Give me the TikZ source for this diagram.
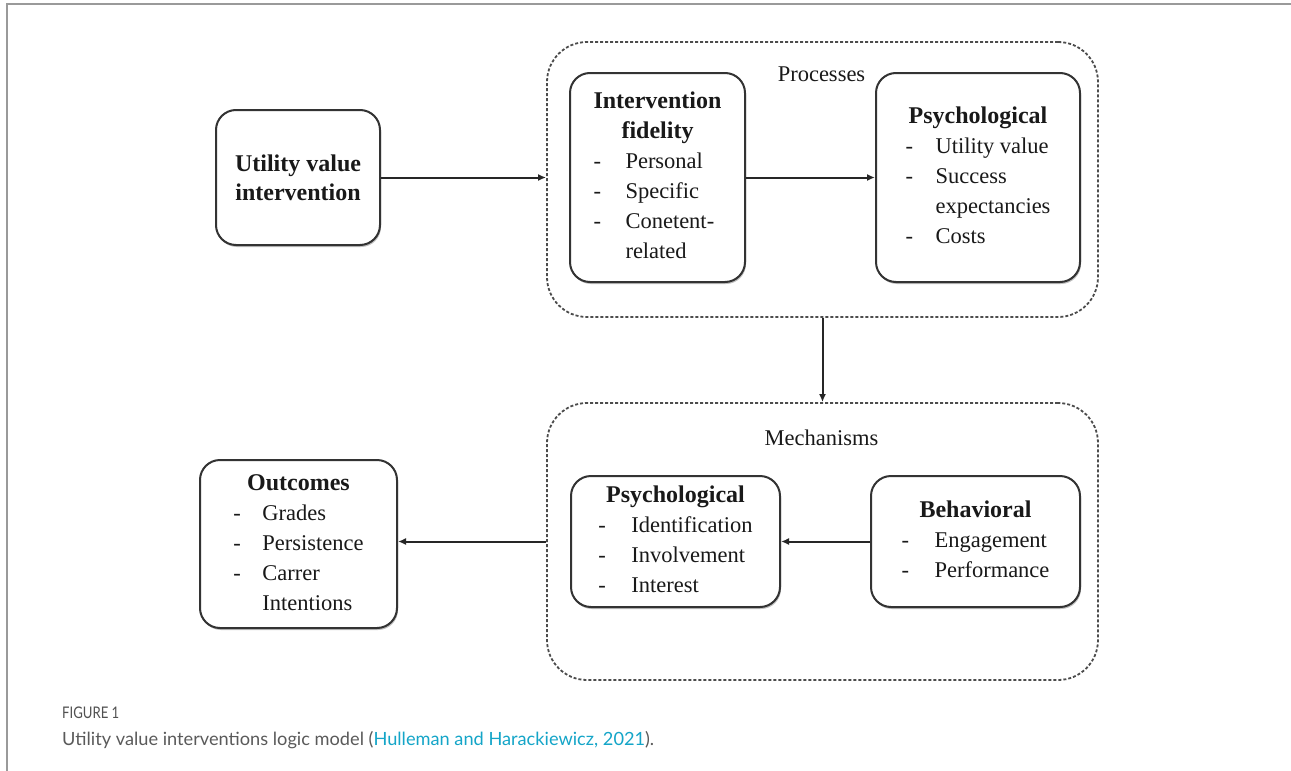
\documentclass[tikz,border=0pt]{standalone}
\usepackage{fontspec}
\setmainfont{Liberation Serif}
\newfontfamily\capfont{Lato}
\usetikzlibrary{arrows.meta,shadows}
\definecolor{capgray}{HTML}{5A5A5A}
\definecolor{linkcyan}{HTML}{14A5C8}
\definecolor{boxline}{HTML}{333333}
\definecolor{framegray}{HTML}{9A9A9A}
\newcommand{\hdr}[1]{{\fontsize{24}{30}\selectfont\bfseries #1}}
\newcommand{\hd}[1]{\multicolumn{2}{@{}c@{}}{\hdr{#1}}}
\begin{document}
\begin{tikzpicture}[x=1pt,y=-1pt,
  box/.style={draw=boxline, line width=2pt, rounded corners=20pt, fill=white,
    drop shadow={shadow xshift=1pt, shadow yshift=-2pt, opacity=0.25, fill=black},
    inner sep=0pt, align=center, text=black!90,
    font=\fontsize{22.5}{30}\selectfont},
  group/.style={draw=black!70, line width=1.8pt, dash pattern=on 3pt off 2pt,
    rounded corners=40pt, inner sep=0pt},
  glabel/.style={font=\fontsize{22.5}{30}\selectfont, text=black!90},
  arr/.style={draw=black!85, line width=2pt, -{Latex[length=8pt,width=7pt]}}
]
\useasboundingbox (0,0) rectangle (1291,771);
\fill[white] (0,0) rectangle (1291,771);
\draw[framegray, line width=1.5pt] (7,771) -- (7,4) -- (1291,4);

% groups
\node[group, minimum width=551pt, minimum height=275pt] (proc) at (822.5,179.5) {};
\node[group, minimum width=551pt, minimum height=277pt] (mech) at (822.5,541.5) {};
\node[glabel] (proclbl) at (821.5,74) {Processes};
\node[glabel] (mechlbl) at (821.5,438) {Mechanisms};

% boxes
\node[box, minimum width=164pt, minimum height=135pt] (util) at (298,177.5)
  {\hdr{Utility value}\\[-1pt]\hdr{intervention}};

\node[box, minimum width=175pt, minimum height=209pt] (fid) at (657.5,177.5)
  {\begin{tabular}{@{}p{32pt}@{}l@{}}
   \hd{Intervention}\\ \hd{fidelity}\\
   -&Personal\\ -&Specific\\ -&Conetent-\\ &related
   \end{tabular}};

\node[box, minimum width=204pt, minimum height=209pt] (psyA) at (978,177.5)
  {\begin{tabular}{@{}p{30pt}@{}l@{}}
   \hd{Psychological}\\
   -&Utility value\\ -&Success\\ &expectancies\\ -&Costs
   \end{tabular}};

\node[box, minimum width=209pt, minimum height=131pt] (psyB) at (675.5,541.5)
  {\begin{tabular}{@{}p{33pt}@{}l@{}}
   \hd{Psychological}\\
   -&Identification\\ -&Involvement\\ -&Interest
   \end{tabular}};

\node[box, minimum width=209pt, minimum height=131pt] (beh) at (975.5,541.5)
  {\begin{tabular}{@{}p{33pt}@{}l@{}}
   \hd{Behavioral}\\
   -&Engagement\\ -&Performance
   \end{tabular}};

\node[box, minimum width=197pt, minimum height=168pt] (out) at (298.5,544)
  {\begin{tabular}{@{}p{29pt}@{}l@{}}
   \hd{Outcomes}\\
   -&Grades\\ -&Persistence\\ -&Carrer\\ &Intentions
   \end{tabular}};

% connectors
\draw[arr] (util.east) -- (util.east -| proc.west);
\draw[arr] (fid.east) -- (fid.east -| psyA.west);
\draw[arr] (proc.south) -- (mech.north);
\draw[arr] (beh.west) -- (beh.west -| psyB.east);
\draw[arr] (mech.west) -- (mech.west -| out.east);

% caption
\node[anchor=base west, inner sep=0pt, text=capgray!90!black, font=\capfont\fontsize{16}{18}\selectfont] (figno) at (62,718) {\scalebox{0.82}[1]{FIGURE 1}};
\node[anchor=base west, inner sep=0pt, text=capgray, font=\capfont\fontsize{18.2}{22}\selectfont] (cap) at (62,745)
  {Utility value interventions logic model (\textcolor{linkcyan}{Hulleman and Harackiewicz, 2021}).};
\end{tikzpicture}
\end{document}
